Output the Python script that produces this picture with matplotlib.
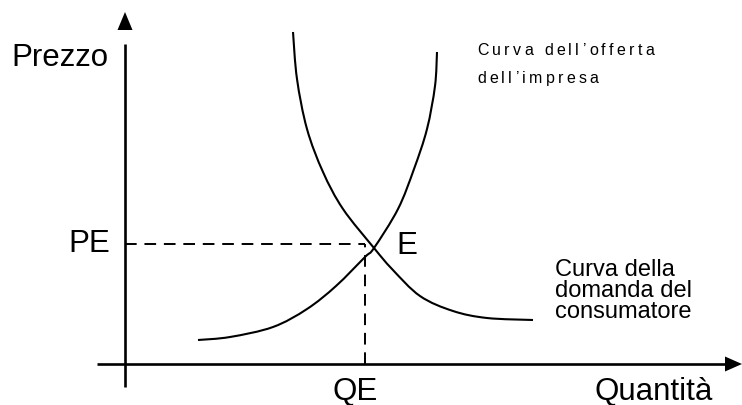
import numpy as np
import matplotlib
matplotlib.use("Agg")
import matplotlib.pyplot as plt
from matplotlib.path import Path
from matplotlib.patches import PathPatch

plt.rcParams['font.family'] = ['Liberation Sans', 'DejaVu Sans']

# curve points (quantity, price), origin at the axes crossing
demand_q = [168, 172, 182, 198, 218, 249, 267, 295, 328, 362, 408]
demand_p = [332, 285, 235, 192, 155, 116, 95, 68, 53, 46, 44]
supply_q = [73, 105, 148, 182, 211, 240, 249, 273, 289, 302, 310, 312]
supply_p = [24, 27, 37, 55, 78, 107, 116, 155, 195, 235, 278, 312]

q_eq = 240   # QE
p_eq = 120   # PE

fig = plt.figure(figsize=(7.42, 4.06), dpi=100)
ax = fig.add_axes([0, 0, 1, 1])
ax.set_xlim(-125, 617)
ax.set_ylim(-41, 365)
ax.axis('off')


def smooth_curve(xs, ys, **kw):
    # catmull-rom through the read points, drawn as cubic bezier segments
    pts = np.column_stack([xs, ys]).astype(float)
    verts = [pts[0]]
    codes = [Path.MOVETO]
    n = len(pts)
    for i in range(n - 1):
        p0 = pts[max(i - 1, 0)]
        p1 = pts[i]
        p2 = pts[i + 1]
        p3 = pts[min(i + 2, n - 1)]
        c1 = p1 + (p2 - p0) / 6.0
        c2 = p2 - (p3 - p1) / 6.0
        verts += [c1, c2, p2]
        codes += [Path.CURVE4] * 3
    ax.add_patch(PathPatch(Path(verts, codes), fill=False, **kw))


# axes with arrows
ax.plot([-28, 600], [0, 0], color='black', lw=1.9, solid_capstyle='butt')
ax.plot([0, 0], [-23, 320], color='black', lw=1.9, solid_capstyle='butt')
ax.fill([600, 617, 600], [-7.5, 0, 7.5], color='black', lw=0)
ax.fill([-7.5, 0, 7.5], [334, 352, 334], color='black', lw=0)

# curves
smooth_curve(demand_q, demand_p, color='black', lw=1.5)
smooth_curve(supply_q, supply_p, color='black', lw=1.5)

# equilibrium guide lines
ax.plot([0, q_eq], [p_eq, p_eq], color='black', lw=1.4, dashes=(6, 4))
ax.plot([q_eq, q_eq], [0, p_eq], color='black', lw=1.4, dashes=(6, 4))

big = 22.5
ax.text(-114, 307, 'Prezzo', fontsize=big, va='center', ha='left')
ax.text(-57, 121, 'PE', fontsize=big, va='center', ha='left')
ax.text(271, 119, 'E', fontsize=big, va='center', ha='left')
ax.text(230, -27, 'QE', fontsize=big, va='center', ha='center')
ax.text(470, -27, 'Quantità', fontsize=big, va='center', ha='left')

ax.text(430, 74, 'Curva della\ndomanda del\nconsumatore', fontsize=17,
        va='center', ha='left', linespacing=0.95)


def spaced_text(x, y, s, size, tracking):
    # draw characters one by one with extra letter spacing
    r = fig.canvas.get_renderer()
    cx = x
    for ch in s:
        t = ax.text(cx, y, ch, fontsize=size, va='baseline', ha='left')
        if ch == ' ':
            w = size * 0.28 * 100 / 72
        else:
            w = t.get_window_extent(renderer=r).width
        cx += w + tracking


spaced_text(352, 310, 'Curva dell\u2019offerta', 11.5, 3.3)
spaced_text(352, 282, 'dell\u2019impresa', 11.5, 3.3)

fig.savefig('out.png', dpi=100)
